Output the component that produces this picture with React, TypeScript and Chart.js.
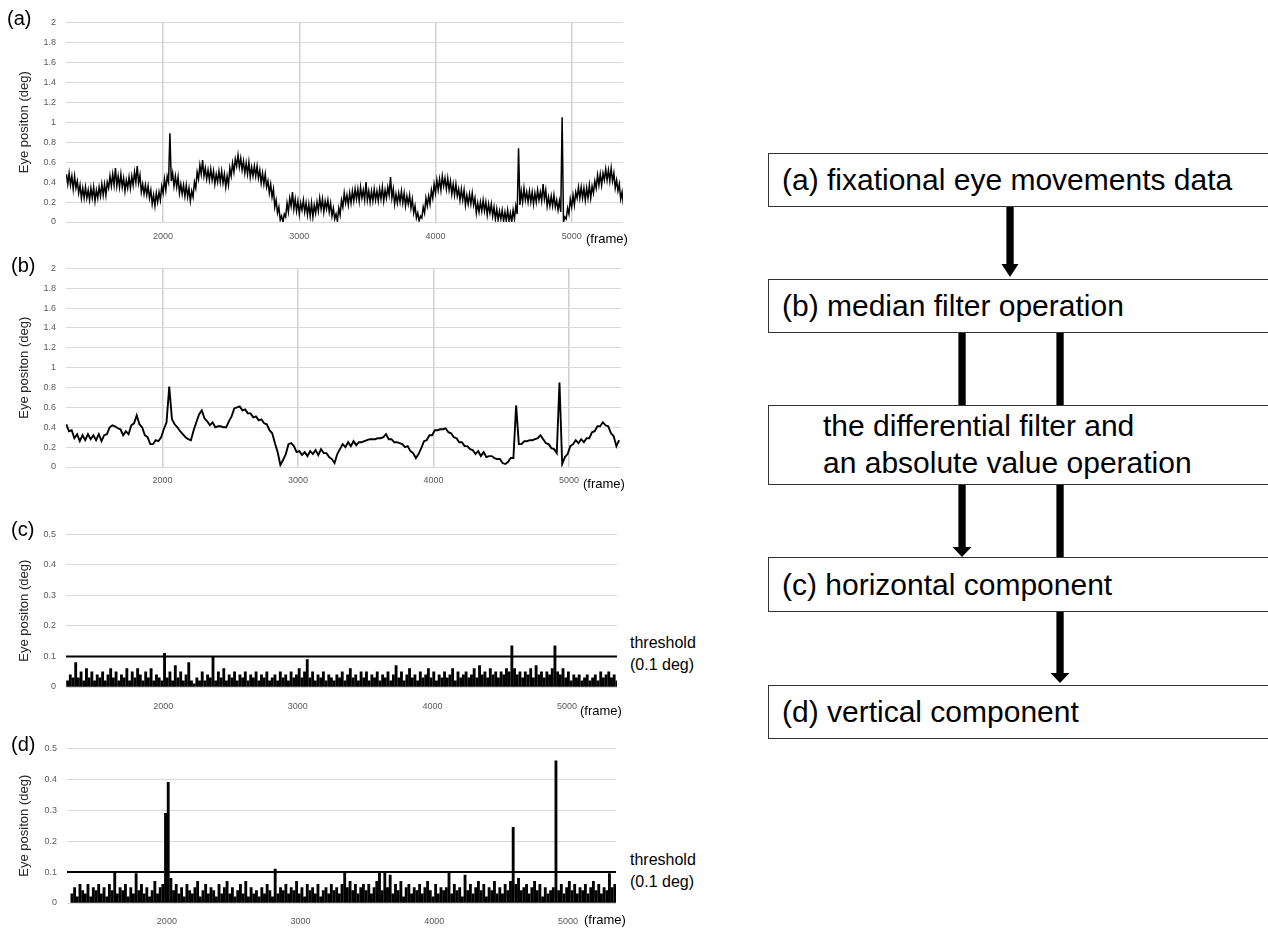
import React, { useEffect, useRef } from "react";
import { Chart, registerables } from "chart.js";

Chart.register(...registerables);
Chart.defaults.font.family = '"Liberation Sans", Arial, sans-serif';

// ---------- data ----------
const FRAME_START = 1290;
const A_FRAME_STEP = 10;
const FRAME_STEP = 20;
const X_TICKS = [2000, 3000, 4000, 5000];
const Y_TICKS_POS = [0, 0.2, 0.4, 0.6, 0.8, 1, 1.2, 1.4, 1.6, 1.8, 2];
const Y_TICKS_DIFF = [0, 0.1, 0.2, 0.3, 0.4, 0.5];
const THRESHOLD = 0.1;

// (a) fixational eye movements data (every 10 frames)
const A_VALUES = [
  0.48, 0.38, 0.49, 0.37, 0.46, 0.33, 0.46, 0.34, 0.41, 0.29, 0.37, 0.24, 0.34, 0.24, 0.35, 0.24, 0.32, 0.22, 0.34, 0.24,
  0.35, 0.21, 0.32, 0.24, 0.35, 0.26, 0.38, 0.27, 0.38, 0.27, 0.40, 0.34, 0.46, 0.36, 0.48, 0.37, 0.54, 0.36, 0.46, 0.35,
  0.48, 0.35, 0.44, 0.31, 0.42, 0.34, 0.45, 0.34, 0.46, 0.37, 0.50, 0.40, 0.56, 0.39, 0.47, 0.30, 0.38, 0.28, 0.37, 0.27,
  0.36, 0.24, 0.32, 0.18, 0.27, 0.16, 0.29, 0.20, 0.30, 0.22, 0.36, 0.29, 0.43, 0.32, 0.46, 0.40, 0.89, 0.41, 0.49, 0.36,
  0.46, 0.35, 0.45, 0.29, 0.38, 0.28, 0.37, 0.26, 0.37, 0.25, 0.34, 0.21, 0.31, 0.25, 0.40, 0.34, 0.50, 0.43, 0.57, 0.48,
  0.62, 0.46, 0.54, 0.43, 0.52, 0.42, 0.53, 0.42, 0.51, 0.38, 0.48, 0.40, 0.51, 0.40, 0.51, 0.39, 0.48, 0.35, 0.46, 0.37,
  0.54, 0.46, 0.59, 0.50, 0.63, 0.56, 0.67, 0.55, 0.64, 0.52, 0.61, 0.49, 0.59, 0.48, 0.60, 0.45, 0.55, 0.46, 0.56, 0.46,
  0.56, 0.44, 0.52, 0.39, 0.49, 0.38, 0.48, 0.35, 0.41, 0.29, 0.38, 0.25, 0.33, 0.15, 0.22, 0.09, 0.15, 0.02, 0.06, 0.00,
  0.08, 0.05, 0.19, 0.10, 0.24, 0.16, 0.30, 0.13, 0.23, 0.11, 0.21, 0.08, 0.19, 0.12, 0.22, 0.10, 0.19, 0.07, 0.18, 0.06,
  0.19, 0.05, 0.17, 0.09, 0.20, 0.11, 0.24, 0.13, 0.23, 0.10, 0.21, 0.13, 0.22, 0.10, 0.19, 0.06, 0.14, 0.03, 0.08, 0.01,
  0.14, 0.07, 0.22, 0.15, 0.29, 0.19, 0.27, 0.17, 0.29, 0.19, 0.31, 0.21, 0.33, 0.23, 0.33, 0.21, 0.35, 0.24, 0.32, 0.22,
  0.40, 0.22, 0.31, 0.20, 0.31, 0.21, 0.33, 0.22, 0.31, 0.21, 0.33, 0.23, 0.35, 0.21, 0.32, 0.24, 0.35, 0.27, 0.45, 0.24,
  0.33, 0.18, 0.28, 0.19, 0.29, 0.20, 0.31, 0.19, 0.29, 0.16, 0.26, 0.18, 0.27, 0.14, 0.23, 0.09, 0.16, 0.04, 0.09, 0.01,
  0.06, 0.04, 0.15, 0.09, 0.24, 0.16, 0.26, 0.18, 0.32, 0.24, 0.38, 0.29, 0.42, 0.32, 0.43, 0.32, 0.46, 0.36, 0.44, 0.33,
  0.44, 0.32, 0.41, 0.28, 0.38, 0.27, 0.38, 0.26, 0.33, 0.22, 0.33, 0.22, 0.32, 0.17, 0.27, 0.18, 0.28, 0.18, 0.29, 0.17,
  0.24, 0.09, 0.19, 0.10, 0.20, 0.11, 0.22, 0.11, 0.20, 0.07, 0.18, 0.09, 0.18, 0.06, 0.15, 0.03, 0.13, 0.02, 0.11, 0.03,
  0.12, 0.01, 0.10, 0.01, 0.12, 0.01, 0.09, 0.00, 0.12, 0.03, 0.16, 0.08, 0.74, 0.17, 0.31, 0.20, 0.34, 0.22, 0.30, 0.20,
  0.31, 0.20, 0.30, 0.18, 0.29, 0.20, 0.32, 0.22, 0.30, 0.21, 0.38, 0.23, 0.32, 0.16, 0.25, 0.16, 0.26, 0.16, 0.27, 0.15,
  0.22, 0.12, 0.21, 0.10, 1.05, 0.00, 0.05, 0.03, 0.14, 0.08, 0.23, 0.15, 0.27, 0.17, 0.30, 0.24, 0.35, 0.24, 0.35, 0.24,
  0.34, 0.22, 0.34, 0.24, 0.37, 0.24, 0.36, 0.29, 0.41, 0.34, 0.47, 0.37, 0.48, 0.37, 0.49, 0.42, 0.53, 0.42, 0.52, 0.41,
  0.54, 0.41, 0.49, 0.34, 0.42, 0.31, 0.38, 0.23, 0.30, 0.17,
];

// (b) after median filter (every 20 frames)
const B_VALUES = [
  0.43, 0.36, 0.37, 0.29, 0.33, 0.26, 0.32, 0.27, 0.33, 0.28,
  0.32, 0.27, 0.33, 0.26, 0.32, 0.33, 0.40, 0.42, 0.41, 0.39,
  0.38, 0.32, 0.36, 0.33, 0.42, 0.44, 0.52, 0.43, 0.40, 0.32,
  0.30, 0.23, 0.23, 0.27, 0.26, 0.30, 0.38, 0.45, 0.81, 0.48,
  0.43, 0.40, 0.36, 0.33, 0.30, 0.28, 0.27, 0.37, 0.45, 0.53,
  0.57, 0.49, 0.46, 0.42, 0.45, 0.40, 0.41, 0.41, 0.40, 0.40,
  0.46, 0.51, 0.59, 0.60, 0.61, 0.57, 0.58, 0.54, 0.54, 0.50,
  0.51, 0.47, 0.48, 0.44, 0.43, 0.37, 0.34, 0.24, 0.15, 0.02,
  0.07, 0.13, 0.23, 0.24, 0.21, 0.15, 0.16, 0.12, 0.15, 0.11,
  0.16, 0.13, 0.17, 0.12, 0.18, 0.14, 0.14, 0.10, 0.08, 0.04,
  0.13, 0.18, 0.23, 0.20, 0.25, 0.21, 0.26, 0.22, 0.25, 0.25,
  0.26, 0.27, 0.28, 0.28, 0.28, 0.29, 0.29, 0.30, 0.33, 0.28,
  0.28, 0.25, 0.25, 0.24, 0.23, 0.20, 0.21, 0.16, 0.14, 0.09,
  0.13, 0.19, 0.26, 0.27, 0.32, 0.32, 0.37, 0.37, 0.38, 0.38,
  0.39, 0.35, 0.34, 0.30, 0.29, 0.25, 0.25, 0.21, 0.21, 0.18,
  0.17, 0.13, 0.16, 0.11, 0.15, 0.10, 0.11, 0.11, 0.09, 0.08,
  0.08, 0.04, 0.03, 0.05, 0.09, 0.09, 0.62, 0.23, 0.23, 0.26,
  0.26, 0.27, 0.27, 0.28, 0.29, 0.32, 0.28, 0.24, 0.23, 0.19,
  0.18, 0.14, 0.85, 0.03, 0.10, 0.13, 0.21, 0.23, 0.27, 0.24,
  0.28, 0.25, 0.29, 0.29, 0.35, 0.36, 0.41, 0.41, 0.45, 0.42,
  0.41, 0.34, 0.31, 0.21, 0.27,
];

// (c) horizontal component (absolute differential, every 20 frames)
const C_VALUES = [
  0.02, 0.04, 0.03, 0.08, 0.03, 0.05, 0.02, 0.06, 0.03, 0.05,
  0.02, 0.04, 0.03, 0.05, 0.02, 0.04, 0.06, 0.03, 0.05, 0.02,
  0.04, 0.03, 0.06, 0.02, 0.05, 0.03, 0.06, 0.04, 0.02, 0.05,
  0.03, 0.06, 0.02, 0.04, 0.03, 0.02, 0.11, 0.03, 0.05, 0.02,
  0.07, 0.03, 0.05, 0.02, 0.04, 0.08, 0.02, 0.01, 0.03, 0.02,
  0.05, 0.02, 0.04, 0.03, 0.10, 0.02, 0.05, 0.03, 0.06, 0.02,
  0.04, 0.03, 0.05, 0.02, 0.04, 0.03, 0.05, 0.02, 0.04, 0.03,
  0.05, 0.02, 0.04, 0.03, 0.05, 0.02, 0.03, 0.04, 0.02, 0.05,
  0.03, 0.04, 0.02, 0.05, 0.03, 0.04, 0.06, 0.03, 0.05, 0.09,
  0.03, 0.05, 0.02, 0.04, 0.03, 0.05, 0.02, 0.04, 0.03, 0.02,
  0.04, 0.03, 0.05, 0.02, 0.04, 0.06, 0.03, 0.04, 0.02, 0.05,
  0.03, 0.05, 0.02, 0.04, 0.03, 0.05, 0.02, 0.04, 0.03, 0.05,
  0.02, 0.04, 0.07, 0.03, 0.05, 0.02, 0.04, 0.06, 0.03, 0.04,
  0.02, 0.05, 0.03, 0.04, 0.06, 0.03, 0.05, 0.02, 0.04, 0.03,
  0.05, 0.03, 0.04, 0.06, 0.02, 0.05, 0.03, 0.04, 0.05, 0.03,
  0.04, 0.06, 0.03, 0.07, 0.04, 0.05, 0.03, 0.06, 0.04, 0.05,
  0.03, 0.05, 0.04, 0.06, 0.05, 0.135, 0.06, 0.04, 0.05, 0.03,
  0.05, 0.04, 0.06, 0.03, 0.07, 0.04, 0.05, 0.03, 0.05, 0.04,
  0.06, 0.135, 0.05, 0.04, 0.06, 0.03, 0.05, 0.02, 0.04, 0.03,
  0.04, 0.02, 0.03, 0.04, 0.02, 0.03, 0.04, 0.02, 0.05, 0.03,
  0.04, 0.05, 0.03, 0.04, 0.02,
];

// (d) vertical component (absolute differential, every 20 frames)
const D_VALUES = [
  0.03, 0.05, 0.02, 0.06, 0.04, 0.03, 0.06, 0.02, 0.05, 0.04,
  0.06, 0.03, 0.05, 0.02, 0.06, 0.04, 0.10, 0.03, 0.05, 0.04,
  0.06, 0.02, 0.05, 0.03, 0.095, 0.04, 0.06, 0.03, 0.05, 0.02,
  0.04, 0.07, 0.03, 0.05, 0.06, 0.29, 0.39, 0.08, 0.04, 0.06,
  0.03, 0.05, 0.02, 0.06, 0.04, 0.03, 0.05, 0.07, 0.02, 0.04,
  0.06, 0.03, 0.05, 0.04, 0.02, 0.06, 0.03, 0.05, 0.07, 0.03,
  0.05, 0.02, 0.04, 0.06, 0.03, 0.07, 0.02, 0.05, 0.03, 0.04,
  0.02, 0.05, 0.03, 0.06, 0.04, 0.02, 0.11, 0.03, 0.05, 0.04,
  0.06, 0.03, 0.05, 0.04, 0.07, 0.03, 0.05, 0.02, 0.06, 0.04,
  0.05, 0.03, 0.06, 0.02, 0.04, 0.05, 0.03, 0.06, 0.04, 0.05,
  0.03, 0.06, 0.10, 0.05, 0.07, 0.04, 0.06, 0.03, 0.05, 0.06,
  0.04, 0.06, 0.03, 0.05, 0.07, 0.10, 0.04, 0.10, 0.05, 0.09,
  0.03, 0.06, 0.04, 0.07, 0.02, 0.05, 0.06, 0.03, 0.05, 0.04,
  0.06, 0.03, 0.05, 0.07, 0.04, 0.02, 0.06, 0.03, 0.05, 0.04,
  0.05, 0.10, 0.03, 0.06, 0.04, 0.05, 0.02, 0.09, 0.04, 0.06,
  0.03, 0.05, 0.07, 0.04, 0.06, 0.02, 0.05, 0.04, 0.07, 0.03,
  0.05, 0.03, 0.06, 0.04, 0.07, 0.245, 0.06, 0.08, 0.04, 0.05,
  0.06, 0.03, 0.05, 0.07, 0.04, 0.06, 0.02, 0.05, 0.03, 0.04,
  0.05, 0.46, 0.04, 0.06, 0.03, 0.05, 0.07, 0.04, 0.06, 0.03,
  0.05, 0.04, 0.06, 0.03, 0.05, 0.07, 0.04, 0.06, 0.03, 0.05,
  0.04, 0.095, 0.05, 0.06, 0.04,
];

const Y_TITLE = "Eye positon (deg)";

const toPoints = (vals: number[], step: number) =>
  vals.map((y, i) => ({ x: FRAME_START + i * step, y }));

// ---------- layout ----------
type Panel = {
  id: string;
  values: number[];
  step: number;
  kind: "line" | "bar";
  lineWidth: number;
  yTicks: number[];
  xMin: number;
  xMax: number;
  plotLeft: number;
  plotRight: number;
  plotTop: number;
  plotBottom: number;
  xGrid: boolean;
  xTickPad: number;
  threshold: boolean;
};

const PANELS: Panel[] = [
  { id: "a", values: A_VALUES, step: A_FRAME_STEP, kind: "line", lineWidth: 1.5, yTicks: Y_TICKS_POS, xMin: 1287, xMax: 5377, plotLeft: 66, plotRight: 623, plotTop: 17, plotBottom: 222, xGrid: true, xTickPad: 9, threshold: false },
  { id: "b", values: B_VALUES, step: FRAME_STEP, kind: "line", lineWidth: 1.9, yTicks: Y_TICKS_POS, xMin: 1288, xMax: 5384, plotLeft: 66, plotRight: 621, plotTop: 263, plotBottom: 467, xGrid: true, xTickPad: 8, threshold: false },
  { id: "c", values: C_VALUES, step: FRAME_STEP, kind: "bar", lineWidth: 2.2, yTicks: Y_TICKS_DIFF, xMin: 1278, xMax: 5371, plotLeft: 66, plotRight: 617, plotTop: 529, plotBottom: 687, xGrid: false, xTickPad: 14, threshold: true },
  { id: "d", values: D_VALUES, step: FRAME_STEP, kind: "bar", lineWidth: 2.2, yTicks: Y_TICKS_DIFF, xMin: 1253, xMax: 5359, plotLeft: 67, plotRight: 616, plotTop: 743, plotBottom: 903, xGrid: false, xTickPad: 13, threshold: true },
];

const PAD_T = 10;
const PAD_R = 4;
const X_H = 30;

function ChartPanel({ p }: { p: Panel }) {
  const ref = useRef<HTMLCanvasElement>(null);
  const w = p.plotRight + PAD_R;
  const h = p.plotBottom - p.plotTop + PAD_T + X_H;

  useEffect(() => {
    if (!ref.current) return;
    const datasets: any[] = [];
    if (p.kind === "line") {
      datasets.push({
        type: "line",
        data: toPoints(p.values, p.step),
        borderColor: "#000",
        borderWidth: p.lineWidth,
        pointRadius: 0,
        tension: 0,
        order: 1,
      });
    } else {
      datasets.push({
        type: "bar",
        data: toPoints(p.values, p.step),
        backgroundColor: "#000",
        barThickness: p.lineWidth,
        order: 1,
      });
    }
    if (p.threshold) {
      datasets.push({
        type: "line",
        data: [
          { x: p.xMin, y: THRESHOLD },
          { x: p.xMax, y: THRESHOLD },
        ],
        borderColor: "#000",
        borderWidth: 2,
        pointRadius: 0,
        order: 0,
      });
    }
    const tickFont = { family: '"Liberation Sans", Arial, sans-serif', size: 9 };
    const chart = new Chart(ref.current, {
      type: p.kind,
      data: { datasets },
      options: {
        animation: false,
        responsive: false,
        maintainAspectRatio: false,
        events: [],
        layout: { padding: { top: PAD_T, right: PAD_R, left: 0, bottom: 0 } },
        plugins: { legend: { display: false }, tooltip: { enabled: false } },
        scales: {
          x: {
            type: "linear",
            min: p.xMin,
            max: p.xMax,
            offset: false,
            afterBuildTicks: (s: any) => {
              s.ticks = X_TICKS.map((v) => ({ value: v }));
            },
            afterFit: (s: any) => {
              s.height = X_H;
            },
            grid: { display: p.xGrid, drawTicks: false, color: "#d0d0d0", lineWidth: 1.5, offset: false },
            border: { display: false },
            ticks: {
              padding: p.xTickPad,
              color: "#595959",
              font: tickFont,
              maxRotation: 0,
              autoSkip: false,
              callback: (v: any) => String(v),
            },
          },
          y: {
            type: "linear",
            min: 0,
            max: p.yTicks[p.yTicks.length - 1],
            afterBuildTicks: (s: any) => {
              s.ticks = p.yTicks.map((v) => ({ value: v }));
            },
            afterFit: (s: any) => {
              s.width = p.plotLeft;
            },
            grid: { drawTicks: false, color: "#d9d9d9", lineWidth: 1 },
            border: { display: false },
            ticks: {
              padding: 10,
              color: "#595959",
              font: tickFont,
              autoSkip: false,
              callback: (v: any) => String(v),
            },
            title: {
              display: true,
              text: Y_TITLE,
              color: "#262626",
              font: { family: '"Liberation Sans", Arial, sans-serif', size: 13 },
              padding: { top: 17, bottom: 0 },
            },
          },
        },
      } as any,
    });
    return () => chart.destroy();
  }, []);

  return (
    <canvas
      ref={ref}
      width={w}
      height={h}
      style={{ position: "absolute", left: 0, top: p.plotTop - PAD_T, width: w, height: h }}
    />
  );
}

const txt = (
  text: string,
  left: number,
  centerY: number,
  size: number,
  extra: React.CSSProperties = {}
) => (
  <div
    style={{
      position: "absolute",
      left,
      top: centerY - size * 0.6,
      height: size * 1.2,
      lineHeight: `${size * 1.2}px`,
      fontSize: size,
      whiteSpace: "nowrap",
      color: "#000",
      ...extra,
    }}
  >
    {text}
  </div>
);

const BOX_STYLE: React.CSSProperties = {
  position: "absolute",
  left: 768,
  width: 520,
  boxSizing: "border-box",
  border: "1.5px solid #333",
  background: "#fff",
  fontSize: 30,
  color: "#000",
  display: "flex",
  flexDirection: "column",
  justifyContent: "center",
  whiteSpace: "nowrap",
};

export default function App() {
  return (
    <div
      style={{
        position: "absolute",
        left: 0,
        top: 0,
        width: 1268,
        height: 932,
        overflow: "hidden",
        background: "#fff",
        fontFamily: '"Liberation Sans", Arial, sans-serif',
      }}
    >
      {PANELS.map((p) => (
        <ChartPanel key={p.id} p={p} />
      ))}

      {txt("(a)", 7, 18, 20)}
      {txt("(b)", 11, 265, 20)}
      {txt("(c)", 11, 529, 20)}
      {txt("(d)", 11, 744, 20)}

      {txt("(frame)", 586, 239, 13)}
      {txt("(frame)", 583, 484, 13)}
      {txt("(frame)", 580, 711, 13)}
      {txt("(frame)", 584, 920, 13)}

      {txt("threshold", 630, 643, 16)}
      {txt("(0.1 deg)", 630, 665, 16)}
      {txt("threshold", 630, 860, 16)}
      {txt("(0.1 deg)", 630, 882, 16)}

      <svg
        width={1268}
        height={932}
        style={{ position: "absolute", left: 0, top: 0 }}
      >
        <g fill="#000">
          <rect x={1006.4} y={207} width={7.3} height={58} />
          <polygon points="1001.5,264 1018.5,264 1010,277" />
          <rect x={958.4} y={333} width={7.3} height={72} />
          <rect x={1056.4} y={333} width={7.3} height={72} />
          <rect x={958.4} y={485} width={7.3} height={63} />
          <polygon points="952.5,547 971.5,547 962,557" />
          <rect x={1056.4} y={485} width={7.3} height={72} />
          <rect x={1056.4} y={612} width={7.3} height={62} />
          <polygon points="1050.5,673 1069.5,673 1060,683" />
        </g>
      </svg>

      <div style={{ ...BOX_STYLE, top: 153, height: 54, paddingLeft: 13 }}>
        <div>(a) fixational eye movements data</div>
      </div>
      <div style={{ ...BOX_STYLE, top: 279, height: 54, paddingLeft: 13 }}>
        <div>(b) median filter operation</div>
      </div>
      <div style={{ ...BOX_STYLE, top: 405, height: 80, paddingLeft: 54, lineHeight: "36.6px" }}>
        <div>the differential filter and</div>
        <div>an absolute value operation</div>
      </div>
      <div style={{ ...BOX_STYLE, top: 557, height: 55, paddingLeft: 13 }}>
        <div>(c) horizontal component</div>
      </div>
      <div style={{ ...BOX_STYLE, top: 685, height: 54, paddingLeft: 13 }}>
        <div>(d) vertical component</div>
      </div>
    </div>
  );
}
